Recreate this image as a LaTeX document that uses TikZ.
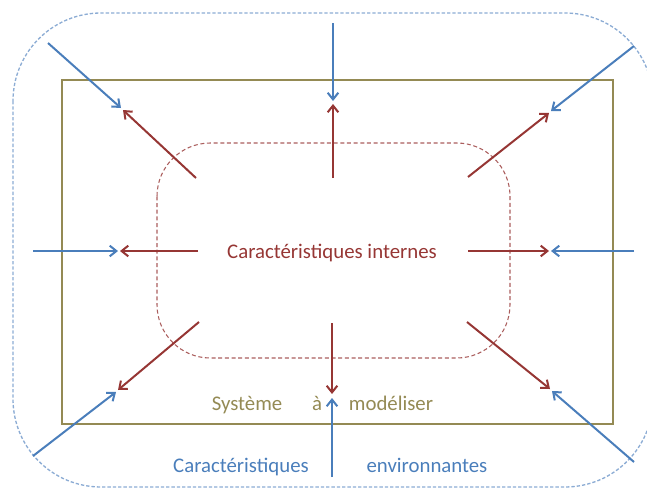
\documentclass[tikz,border=0pt]{standalone}
\usepackage{fontspec}
\setmainfont{Carlito}
\usetikzlibrary{arrows.meta}

\definecolor{envblue}{RGB}{74,126,187}
\definecolor{envlight}{RGB}{140,172,212}
\definecolor{intred}{RGB}{150,54,52}
\definecolor{sysolive}{RGB}{148,138,84}

\begin{document}
\begin{tikzpicture}[x=0.75pt, y=-0.75pt,
  env/.style={envblue, line width=1.5pt, -{Straight Barb[length=5pt,width=8pt]}},
  int/.style={intred, line width=1.5pt, -{Straight Barb[length=5pt,width=8pt]}},
  lbl/.style={font=\fontsize{15.6}{18}\selectfont, inner sep=0pt, anchor=base}]
  \useasboundingbox (0,0) rectangle (647,489);
  \clip (0,0) rectangle (647,489);

  % boundaries
  \draw[envlight, line width=1pt, dash pattern=on 2.5pt off 1.5pt, rounded corners=66] (13,13) rectangle (653,487);
  \draw[sysolive, line width=1pt] (62,80) rectangle (613,424);
  \draw[intred!80, line width=0.8pt, dash pattern=on 3pt off 2pt, rounded corners=40] (157,143) rectangle (510,358);

  % outer starts
  \coordinate (etl) at (48,43);   \coordinate (et) at (333,23);   \coordinate (etr) at (634,46);
  \coordinate (el) at (33,251);                                    \coordinate (er) at (634,251);
  \coordinate (ebl) at (33,456);  \coordinate (eb) at (332,477);  \coordinate (ebr) at (634,462);
  % inner starts
  \coordinate (itl) at (196,178); \coordinate (it) at (333,178);  \coordinate (itr) at (468,177);
  \coordinate (il) at (198,251);                                   \coordinate (ir) at (468,251);
  \coordinate (ibl) at (199,322); \coordinate (ib) at (332,323);  \coordinate (ibr) at (467,322);
  % meeting points
  \coordinate (mtl) at (121,108); \coordinate (mt) at (333,101);  \coordinate (mtr) at (551,111);
  \coordinate (ml) at (118,251);                                   \coordinate (mr) at (551,251);
  \coordinate (mbl) at (116,392); \coordinate (mb) at (332,398);  \coordinate (mbr) at (552,391);

  \foreach \p in {tl,t,tr,l,r,bl,b,br} {
    \draw[env] (e\p) -- (m\p);
  }
  \draw[int] (itl) -- ([shift={(2,2)}]mtl);
  \draw[int] (it) -- ([shift={(0,3)}]mt);
  \draw[int] (itr) -- ([shift={(-2,2)}]mtr);
  \draw[int] (il) -- ([shift={(2,0)}]ml);
  \draw[int] (ir) -- ([shift={(-2,0)}]mr);
  \draw[int] (ibl) -- ([shift={(2,-2)}]mbl);
  \draw[int] (ib) -- ([shift={(0,-4)}]mb);
  \draw[int] (ibr) -- ([shift={(-2,-2)}]mbr);

  % labels
  \node[lbl, intred] (intern) at (332,258) {Caractéristiques internes};
  \node[lbl, sysolive] (sys) at (247,410) {Système};
  \node[lbl, sysolive] (sysa) at (317,410) {à};
  \node[lbl, sysolive] (sysmod) at (391,410) {modéliser};
  \node[lbl, envblue] (envcar) at (241,472) {Caractéristiques};
  \node[lbl, envblue] (envenv) at (427,472) {environnantes};
\end{tikzpicture}
\end{document}
